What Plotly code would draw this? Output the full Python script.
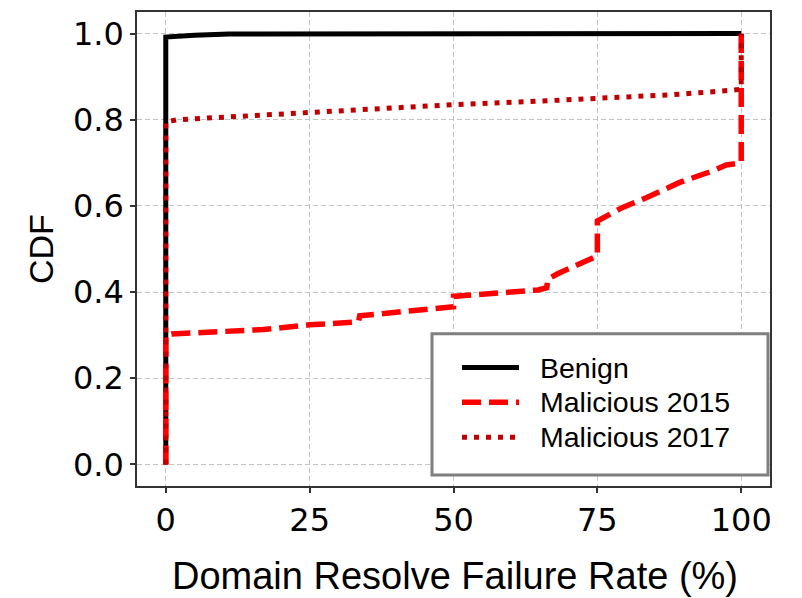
import plotly.graph_objects as go

# ---- data ----
benign_x = [0, 0, 5, 11, 100]
benign_y = [0.0, 0.992, 0.996, 0.999, 1.0]

mal2015_x = [0, 0, 1, 5, 11, 17, 25, 33.5, 33.7, 40, 46, 50, 50, 55, 62.8, 64.7, 66.2, 66.4, 68, 72, 75, 75,
             79.3, 83.5, 89.2, 95, 97.4, 100, 100]
mal2015_y = [0.0, 0.30, 0.303, 0.305, 0.308, 0.313, 0.324, 0.331, 0.345, 0.352, 0.359, 0.366, 0.39, 0.396, 0.405,
             0.405, 0.41, 0.43, 0.442, 0.468, 0.484, 0.565, 0.596, 0.619, 0.654, 0.681, 0.695, 0.70, 1.0]

mal2017_x = [0, 0, 2, 10, 24, 36, 50, 63, 76, 88, 98, 100, 100]
mal2017_y = [0.0, 0.795, 0.80, 0.806, 0.817, 0.826, 0.835, 0.842, 0.849, 0.858, 0.868, 0.871, 1.0]

x_ticks = [0, 25, 50, 75, 100]
y_ticks = [0.0, 0.2, 0.4, 0.6, 0.8, 1.0]
y_tick_labels = ["0.0", "0.2", "0.4", "0.6", "0.8", "1.0"]

names = ["Benign", "Malicious 2015", "Malicious 2017"]
colors = ["#000000", "#ff0000", "#c00000"]
dashes = ["solid", "19px,8px", "5px,7px"]
widths = [5, 5.5, 5]

# ---- layout geometry (pixels) ----
W, H = 802, 598
L, R, T, B = 137, 770, 10, 486

def px2x(px):
    return (px - L) / (R - L)

def py2y(py):
    return (B - py) / (B - T)

fig = go.Figure()
series = [(benign_x, benign_y), (mal2015_x, mal2015_y), (mal2017_x, mal2017_y)]
for (xs, ys), n, c, d, w in zip(series, names, colors, dashes, widths):
    fig.add_trace(go.Scatter(x=xs, y=ys, mode="lines", name=n,
                             line=dict(color=c, dash=d, width=w), showlegend=False))

tick_font = dict(family="DejaVu Sans", size=32, color="black")
axis_common = dict(showline=True, linecolor="#333333", linewidth=1.5, mirror=True,
                   ticks="outside", ticklen=5, tickwidth=1.5, tickcolor="#333333",
                   showgrid=True, gridcolor="#c4c4c4", gridwidth=1, griddash="5px,3px",
                   zeroline=False, tickfont=tick_font)

fig.update_xaxes(range=[-5, 105], tickvals=x_ticks, ticktext=[str(v) for v in x_ticks], **axis_common)
fig.update_yaxes(range=[-0.05, 1.05], tickvals=y_ticks, ticktext=y_tick_labels, **axis_common)

shapes = []
annotations = []
# legend box
shapes.append(dict(type="rect", xref="paper", yref="paper",
                   x0=px2x(432), x1=px2x(768), y0=py2y(475), y1=py2y(333),
                   line=dict(color="#7f7f7f", width=3), fillcolor="white", layer="above"))
rows = [367, 402, 437]
for n, c, d, w, ry in zip(names, colors, dashes, widths, rows):
    shapes.append(dict(type="line", xref="paper", yref="paper",
                       x0=px2x(462), x1=px2x(519), y0=py2y(ry), y1=py2y(ry),
                       line=dict(color=c, dash=d, width=w), layer="above"))
    annotations.append(dict(text=n, xref="paper", yref="paper", x=px2x(538), y=py2y(ry),
                            xanchor="left", yanchor="middle", showarrow=False,
                            font=dict(family="Liberation Sans", size=28.5, color="black")))

annotations.append(dict(text="Domain Resolve Failure Rate (%)", xref="paper", yref="paper",
                        x=px2x(455), y=py2y(576), xanchor="center", yanchor="middle", showarrow=False,
                        font=dict(family="Liberation Sans", size=38, color="black")))
annotations.append(dict(text="CDF", xref="paper", yref="paper", textangle=-90,
                        x=px2x(41), y=py2y(248), xanchor="center", yanchor="middle", showarrow=False,
                        font=dict(family="Liberation Sans", size=34, color="black")))

fig.update_layout(width=W, height=H, margin=dict(l=L, r=W - R, t=T, b=H - B),
                  paper_bgcolor="white", plot_bgcolor="white",
                  shapes=shapes, annotations=annotations, showlegend=False)

fig.write_html("out.html")
